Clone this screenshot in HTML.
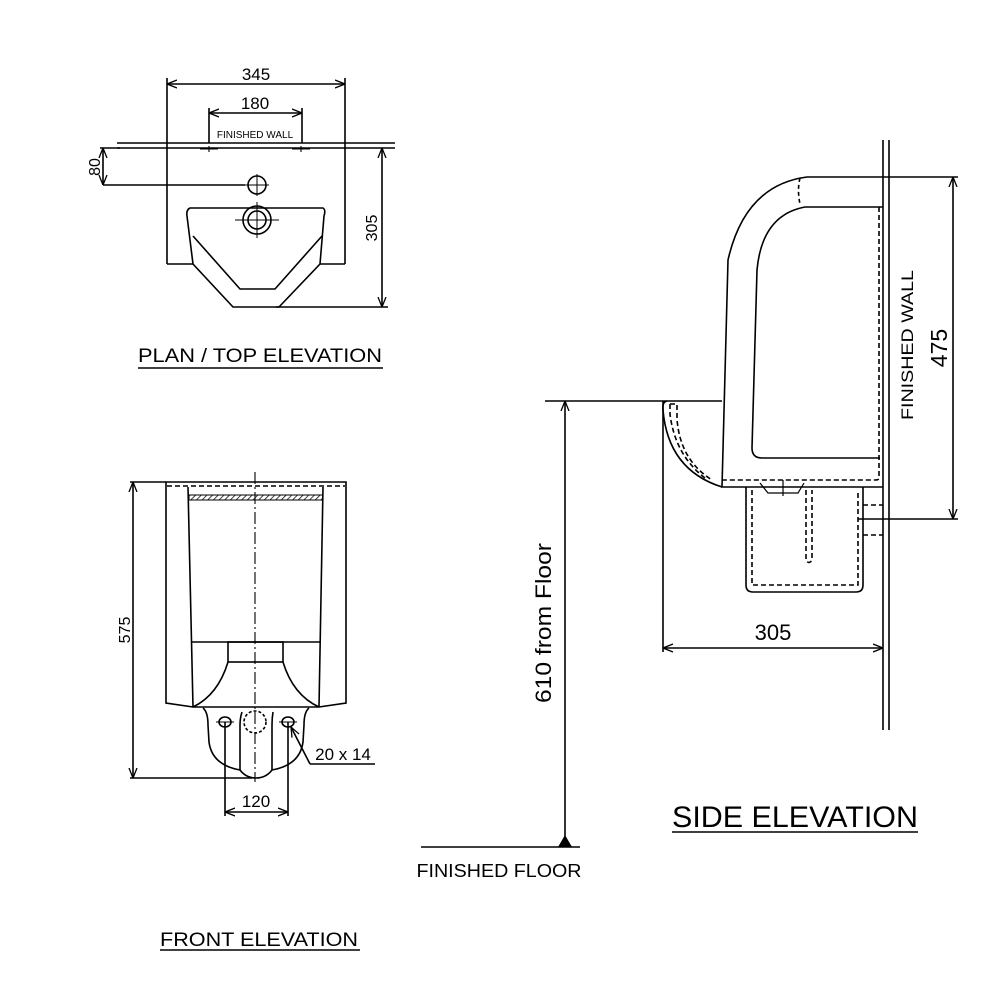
<!DOCTYPE html>
<html><head><meta charset="utf-8"><style>
html,body{margin:0;padding:0;background:#fff;}
svg{display:block;}
text{font-family:"Liberation Sans",Arial,sans-serif;fill:#000;}
</style></head><body>
<svg width="1000" height="1000" viewBox="0 0 1000 1000" xmlns="http://www.w3.org/2000/svg">
<defs>
<marker id="a" viewBox="0 0 10 10" refX="10" refY="5" markerWidth="10" markerHeight="10" orient="auto-start-reverse" markerUnits="userSpaceOnUse"><path d="M0,1 L10,5 L0,9" fill="none" stroke="#000" stroke-width="1.3"/></marker>
<pattern id="h" width="4" height="4" patternUnits="userSpaceOnUse" patternTransform="rotate(45)"><line x1="0" y1="0" x2="0" y2="4" stroke="#000" stroke-width="1.5"/></pattern>
</defs>
<g stroke="#000" stroke-width="1.6" fill="none">
<!-- PLAN -->
<line x1="167" y1="78" x2="167" y2="264"/><line x1="345" y1="78" x2="345" y2="264"/>
<line x1="167" y1="84" x2="345" y2="84" marker-start="url(#a)" marker-end="url(#a)"/>
<line x1="209" y1="108" x2="209" y2="143"/><line x1="302" y1="108" x2="302" y2="143"/>
<line x1="209" y1="113" x2="302" y2="113" marker-start="url(#a)" marker-end="url(#a)"/>
<line x1="117" y1="143" x2="395" y2="143"/><line x1="117" y1="148" x2="395" y2="148"/>
<path d="M200,149 h18 M209,146 v6 M292,149 h18 M301,146 v6" stroke-width="1.1"/>
<line x1="167" y1="264" x2="193" y2="264"/><line x1="320" y1="264" x2="345" y2="264"/>
<line x1="100" y1="148" x2="120" y2="148"/>
<line x1="103" y1="148" x2="103" y2="185" marker-start="url(#a)" marker-end="url(#a)"/>
<line x1="103" y1="185" x2="245" y2="185"/>
<circle cx="257" cy="185" r="9"/><path d="M245,185 h24 M257,174 v22" stroke-width="1"/>
<path d="M190,208 L323,208 Q326,210 324,216 L320,264 L279,307 L233,307 L193,264 L187,216 Q186,210 190,208 Z"/>
<path d="M193,236 L240,289 L275,289 L322,236"/>
<circle cx="257" cy="220" r="14"/><circle cx="257" cy="220" r="9"/>
<path d="M235,220 h44 M257,202 v36" stroke-width="1"/>
<line x1="276" y1="307" x2="388" y2="307"/>
<line x1="382" y1="148" x2="382" y2="307" marker-start="url(#a)" marker-end="url(#a)"/>
<line x1="138" y1="368" x2="383" y2="368"/>
<!-- FRONT -->
<line x1="255" y1="472" x2="255" y2="782" stroke-dasharray="12,3,2,3" stroke-width="1.1"/>
<path d="M166,482 L346,482 L346,703 L319,707 L193,707 L166,703 Z"/>
<line x1="167" y1="486" x2="345" y2="486" stroke-dasharray="5,3"/>
<path d="M188,487 L193,707 M323,487 L319,707"/>
<rect x="189" y="495" width="134" height="5" fill="url(#h)" stroke-width="1"/>
<line x1="192" y1="642" x2="320" y2="642"/>
<rect x="228" y="642" width="55" height="20"/>
<path d="M228,662 Q218,695 193,707 M283,662 Q293,695 319,707"/>
<path d="M203,708 Q208,712 208,725 L209,742 Q212,765 240,770 Q246,778 256,778 Q266,778 272,770 Q300,765 303,742 L304,725 Q304,712 309,708"/>
<path d="M242,712 Q240,718 240,725 L240,770 M273,712 Q272,718 272,725 L272,770"/>
<ellipse cx="225" cy="722" rx="6" ry="5"/><ellipse cx="288" cy="722" rx="6" ry="5"/>
<path d="M216,722 h18 M279,722 h18" stroke-width="1"/>
<circle cx="255" cy="722" r="11" stroke-dasharray="3,2"/>
<line x1="225" y1="722" x2="225" y2="816"/><line x1="288" y1="722" x2="288" y2="816"/>
<line x1="225" y1="812" x2="288" y2="812" marker-start="url(#a)" marker-end="url(#a)"/>
<line x1="310" y1="764" x2="291" y2="727" marker-end="url(#a)"/><line x1="310" y1="764" x2="375" y2="764"/>
<line x1="130" y1="482" x2="166" y2="482"/><line x1="130" y1="778" x2="252" y2="778"/>
<line x1="133" y1="482" x2="133" y2="778" marker-start="url(#a)" marker-end="url(#a)"/>
<line x1="160" y1="950" x2="360" y2="950"/>
<!-- SIDE -->
<line x1="883" y1="140" x2="883" y2="730"/><line x1="889" y1="140" x2="889" y2="730"/>
<path d="M883,177 L807,177 Q745,185 728,260 L722,487 L883,487"/>
<path d="M883,207 L805,207 Q762,215 757,270 L752,448 Q752,458 762,458 L880,458"/>
<path d="M800,178 Q797,190 800,204" stroke-dasharray="4,3"/>
<path d="M879,207 L879,478 Q879,480 875,480 L722,480" stroke-dasharray="5,3"/>
<path d="M545,401 L722,401"/>
<path d="M667,401 Q662,402 663,410 Q668,470 722,487"/>
<path d="M670,404 h7 v15 Q680,460 712,480" stroke-dasharray="5,3"/>
<path d="M670,404 v10 Q675,455 705,478" stroke-dasharray="5,3"/>
<path d="M746,487 L746,585 Q746,592 753,592 L856,592 Q863,592 863,585 L863,487"/>
<path d="M752,490 L752,585 L858,585 L858,490" stroke-dasharray="5,3"/>
<path d="M806,490 L806,560 Q809,565 812,560 L812,490" stroke-dasharray="5,3"/>
<path d="M760,483 L768,493 L798,493 L804,483 M783,480 v16" stroke-width="1.2"/>
<path d="M863,505 h20 M863,535 h20" stroke-dasharray="5,3"/>
<line x1="858" y1="519" x2="958" y2="519"/><line x1="883" y1="177" x2="958" y2="177"/>
<line x1="953" y1="177" x2="953" y2="519" marker-start="url(#a)" marker-end="url(#a)"/>
<line x1="663" y1="401" x2="663" y2="652"/>
<line x1="663" y1="648" x2="883" y2="648" marker-start="url(#a)" marker-end="url(#a)"/>
<line x1="565" y1="401" x2="565" y2="846" marker-start="url(#a)"/>
<line x1="421" y1="847" x2="580" y2="847"/>
<line x1="672" y1="832" x2="918" y2="832"/>
</g>
<polygon points="558,847 572,847 565,835" fill="#000"/>
<text x="256" y="80" font-size="17" text-anchor="middle">345</text>
<text x="255" y="109" font-size="17" text-anchor="middle">180</text>
<text x="255" y="138" font-size="10" text-anchor="middle">FINISHED WALL</text>
<text transform="translate(100,167) rotate(-90)" font-size="16" text-anchor="middle">80</text>
<text transform="translate(377,228) rotate(-90)" font-size="16" text-anchor="middle">305</text>
<text x="260" y="362" font-size="19" text-anchor="middle" textLength="244" lengthAdjust="spacingAndGlyphs">PLAN / TOP ELEVATION</text>
<text transform="translate(130,630) rotate(-90)" font-size="16" text-anchor="middle">575</text>
<text x="256" y="807" font-size="17" text-anchor="middle">120</text>
<text x="343" y="760" font-size="17" text-anchor="middle">20 x 14</text>
<text x="259" y="946" font-size="19" text-anchor="middle" textLength="198" lengthAdjust="spacingAndGlyphs">FRONT ELEVATION</text>
<text transform="translate(913,345) rotate(-90)" font-size="17" text-anchor="middle" textLength="150" lengthAdjust="spacingAndGlyphs">FINISHED WALL</text>
<text transform="translate(947,348) rotate(-90)" font-size="23" text-anchor="middle">475</text>
<text x="773" y="640" font-size="22" text-anchor="middle">305</text>
<text transform="translate(551,623) rotate(-90)" font-size="22" text-anchor="middle" textLength="160" lengthAdjust="spacingAndGlyphs">610 from Floor</text>
<text x="499" y="877" font-size="18" text-anchor="middle" textLength="165" lengthAdjust="spacingAndGlyphs">FINISHED FLOOR</text>
<text x="795" y="827" font-size="30" text-anchor="middle" textLength="246" lengthAdjust="spacingAndGlyphs">SIDE ELEVATION</text>
</svg>
</body></html>
